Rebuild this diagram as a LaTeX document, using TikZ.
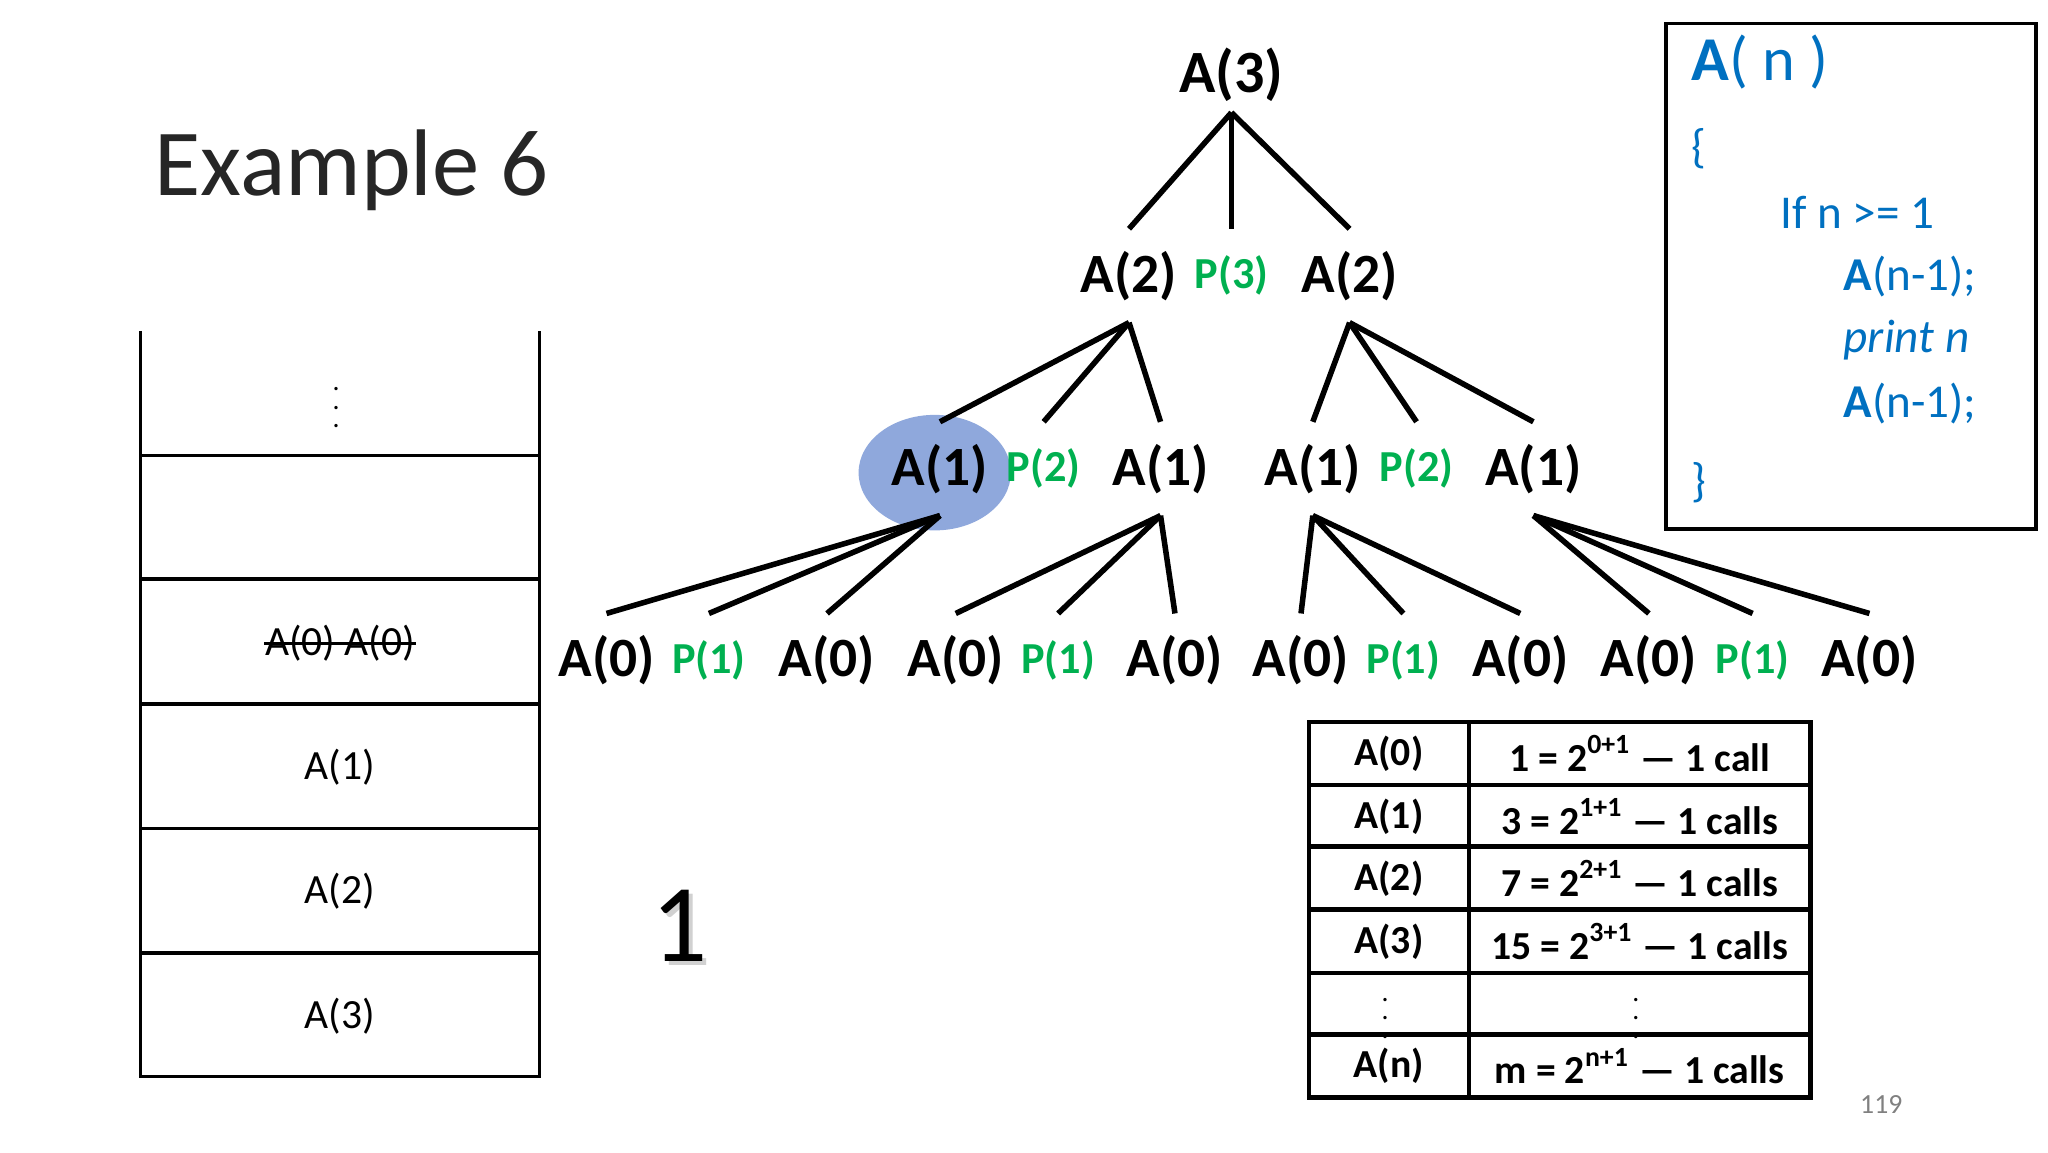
\documentclass[tikz,border=0pt]{standalone}
\usepackage{fontspec}
\setmainfont{Carlito}
\definecolor{pg}{HTML}{00B050}
\definecolor{cb}{HTML}{0070C0}
\definecolor{hl}{HTML}{8FA8DC}
\begin{document}
\begin{tikzpicture}[x=0.01cm,y=-0.01cm,
  tn/.style={font=\fontsize{12}{14}\selectfont\bfseries,inner sep=0pt,minimum height=0.7cm},
  pn/.style={font=\fontsize{9.6}{12}\selectfont\bfseries,text=pg,inner sep=0pt,minimum height=0.7cm},
  ed/.style={line width=1.2pt},
  st/.style={font=\fontsize{9}{11}\selectfont},
  cd/.style={font=\fontsize{10.2}{12}\selectfont,text=cb,anchor=west},
  tb/.style={font=\fontsize{8.6}{10}\selectfont\bfseries},
  vd/.style={font=\fontsize{6}{7}\selectfont,inner sep=0pt}]
\useasboundingbox (0,0) rectangle (1560,878);
\node[font=\fontsize{20.5}{24}\selectfont,text=black!85] (title) at (268,130) {Example 6};
% stack
\draw[line width=0.8pt] (107,252) -- (107,820) -- (411,820) -- (411,252);
\foreach \y in {347,441,536,631,726} \draw[line width=0.8pt] (107,\y) -- (411,\y);
\node[vd] (s0) at (256,300) {$\vdots$};
\node[st,inner sep=0pt] (s1) at (259,490) {A(0) A(0)};
\draw[line width=0.6pt] (s1.west) -- (s1.east);
\node[st] (s2) at (259,584) {A(1)};
\node[st] (s3) at (259,679) {A(2)};
\node[st] (s4) at (259,774) {A(3)};
% highlight
\fill[hl] (712,360) ellipse [x radius=58, y radius=44];
% tree
\node[tn,font=\fontsize{13}{15}\selectfont\bfseries,minimum height=0.56cm] (r) at (938,57) {A(3)};
\node[tn] (a) at (860,210) {A(2)};
\node[pn] (p3) at (938,210) {P(3)};
\node[tn] (b) at (1028,210) {A(2)};
\node[tn] (a1) at (716,357) {A(1)};
\node[pn] (ap) at (795,357) {P(2)};
\node[tn] (a2) at (884,357) {A(1)};
\node[tn] (b1) at (1000,357) {A(1)};
\node[pn] (bp) at (1079,357) {P(2)};
\node[tn] (b2) at (1168,357) {A(1)};
\foreach \n/\x in {c1/462,c3/630,d1/728,d3/895,e1/991,e3/1158,f1/1256,f3/1424}
  \node[tn] (\n) at (\x,503) {A(0)};
\foreach \n/\x in {c2/540,d2/806,e2/1069,f2/1335}
  \node[pn] (\n) at (\x,503) {P(1)};
\foreach \p/\c in {r/a,r/p3,r/b,a/a1,a/ap,a/a2,b/b1,b/bp,b/b2,a1/c1,a1/c2,a1/c3,a2/d1,a2/d2,a2/d3,b1/e1,b1/e2,b1/e3,b2/f1,b2/f2,b2/f3}
  \draw[ed] (\p.south) -- (\c.north);
% code box
\draw[line width=0.8pt] (1269,18) rectangle (1551,403);
\node[cd,font=\fontsize{13.5}{16}\selectfont] (c0) at (1276,47) {\textbf{A}( n )};
\node[cd] (c1b) at (1276,113) {\{};
\node[cd] (c2b) at (1344,162) {If n >= 1};
\node[cd] (c3b) at (1392,211) {\textbf{A}(n-1);};
\node[cd] (c4b) at (1392,259) {\itshape print n};
\node[cd] (c5b) at (1392,307) {\textbf{A}(n-1);};
\node[cd] (c6b) at (1276,368) {\}};
% table
\draw[line width=1pt] (997,550) rectangle (1379,836);
\draw[line width=1pt] (1119,550) -- (1119,836);
\foreach \y in {598,645,693,741,788} \draw[line width=1pt] (997,\y) -- (1379,\y);
\foreach \i/\y/\l/\r in {0/574/A(0)/{1 = 2\textsuperscript{0+1} — 1 call},1/622/A(1)/{3 = 2\textsuperscript{1+1} — 1 calls},2/669/A(2)/{7 = 2\textsuperscript{2+1} — 1 calls},3/717/A(3)/{15 = 2\textsuperscript{3+1} — 1 calls},5/812/A(n)/{m = 2\textsuperscript{n+1} — 1 calls}}{
  \node[tb] (tl\i) at (1058,\y) {\l};
  \node[tb] (tr\i) at (1249,\y) {\r};
}
\node[vd] (tl4) at (1055,765) {$\vdots$};
\node[vd] (tr4) at (1246,765) {$\vdots$};
% big one
\node[font=\fontsize{24}{28}\selectfont,text=gray!60,opacity=0.6] at (521,708) {1};
\node[font=\fontsize{24}{28}\selectfont] (one) at (518,705) {1};
\node[font=\fontsize{6}{7}\selectfont,text=gray] (pg) at (1433,841) {119};
\end{tikzpicture}
\end{document}
